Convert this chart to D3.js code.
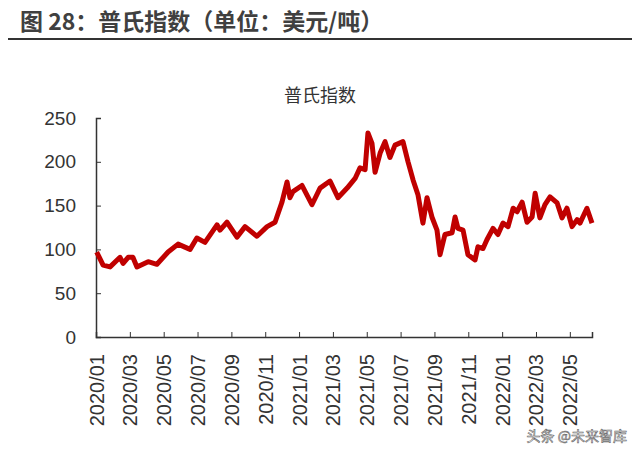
<!DOCTYPE html>
<html>
<head>
<meta charset="utf-8">
<style>body{margin:0;background:#fff}</style>
</head>
<body></body>
<script src="https://d3js.org/d3.v7.min.js"></script>
<script>
// months since 2020/01, Platts index (USD/t)
var months = [0.04,0.42,0.83,1.42,1.60,1.90,2.18,2.42,3.08,3.60,4.26,4.85,5.56,5.96,6.44,7.15,7.33,7.74,8.33,8.81,9.51,10.11,10.58,10.99,11.29,11.46,11.64,12.17,12.76,13.24,13.83,14.30,14.84,15.31,15.60,15.90,16.07,16.31,16.49,16.79,17.08,17.37,17.67,18.14,18.44,18.74,19.03,19.32,19.56,19.85,20.15,20.33,20.62,21.04,21.22,21.39,21.69,21.98,22.40,22.57,22.87,23.10,23.46,23.75,24.05,24.35,24.65,24.88,25.18,25.47,25.77,25.95,26.23,26.53,26.83,27.25,27.54,27.83,28.13,28.43,28.60,29.01,29.31];
var values = [97,82,80,91,84,91,91,80,86,83,97,106,100,113,108,128,122,131,114,126,115,126,131,154,177,159,166,173,151,170,178,159,170,181,193,191,233,221,188,210,223,205,219,223,200,179,162,130,159,137,122,94,117,119,137,124,122,94,88,103,101,111,124,117,130,126,147,143,154,131,137,164,136,151,160,153,136,147,126,134,130,147,130];
var tickMonths = d3.range(0, 29, 2);
var tickLabels = ["2020/01","2020/03","2020/05","2020/07","2020/09","2020/11","2021/01","2021/03","2021/05","2021/07","2021/09","2021/11","2022/01","2022/03","2022/05"];
var yTicks = [0,50,100,150,200,250];

var W = 640, H = 457;
var svg = d3.select("body").append("svg").attr("width", W).attr("height", H)
	.style("font-family", "'Noto Sans CJK SC', sans-serif");

svg.append("text").attr("x", 20).attr("y", 30).text("图 28：普氏指数（单位：美元/吨）")
	.attr("font-size", 23).attr("font-weight", "bold").attr("fill", "#404040");
svg.append("line").attr("x1", 8).attr("x2", 632).attr("y1", 39).attr("y2", 39)
	.attr("stroke", "#333").attr("stroke-width", 2);
svg.append("text").attr("x", 320).attr("y", 102).attr("text-anchor", "middle")
	.text("普氏指数").attr("font-size", 18).attr("fill", "#333");

var x = d3.scaleLinear().domain([0, 29.31]).range([96, 592]);
var y = d3.scaleLinear().domain([0, 250]).range([337, 118]);

var gx = svg.append("g").attr("transform", "translate(0,337)")
	.call(d3.axisBottom(x).tickValues(tickMonths).tickSize(-5)
		.tickFormat((d, i) => tickLabels[i]));
gx.select(".domain").attr("stroke", "#333").attr("stroke-width", 1.5);
gx.selectAll(".tick line").attr("stroke", "#333");
gx.selectAll("text").attr("font-size", 20).attr("fill", "#333")
	.attr("font-family", "'Liberation Sans', sans-serif")
	.attr("transform", "rotate(-90)").attr("text-anchor", "end")
	.attr("x", -17).attr("y", 0).attr("dy", "0.35em");

var gy = svg.append("g").attr("transform", "translate(96,0)")
	.call(d3.axisLeft(y).tickValues(yTicks).tickSize(-5));
gy.select(".domain").attr("stroke", "#333").attr("stroke-width", 1.5);
gy.selectAll(".tick line").attr("stroke", "#333");
gy.selectAll("text").attr("font-size", 19).attr("fill", "#333")
	.attr("font-family", "'Liberation Sans', sans-serif").attr("x", -20);

var line = d3.line().x((d, i) => x(months[i])).y(d => y(d));
svg.append("path").datum(values).attr("d", line).attr("fill", "none")
	.attr("stroke", "#c00000").attr("stroke-width", 5).attr("stroke-linejoin", "round");

svg.append("text").attr("x", 627).attr("y", 441).attr("text-anchor", "end")
	.text("头条 @未来智库").attr("font-size", 14).attr("fill", "#fff")
	.attr("stroke", "#666").attr("stroke-width", 0.6);
</script>
</html>
